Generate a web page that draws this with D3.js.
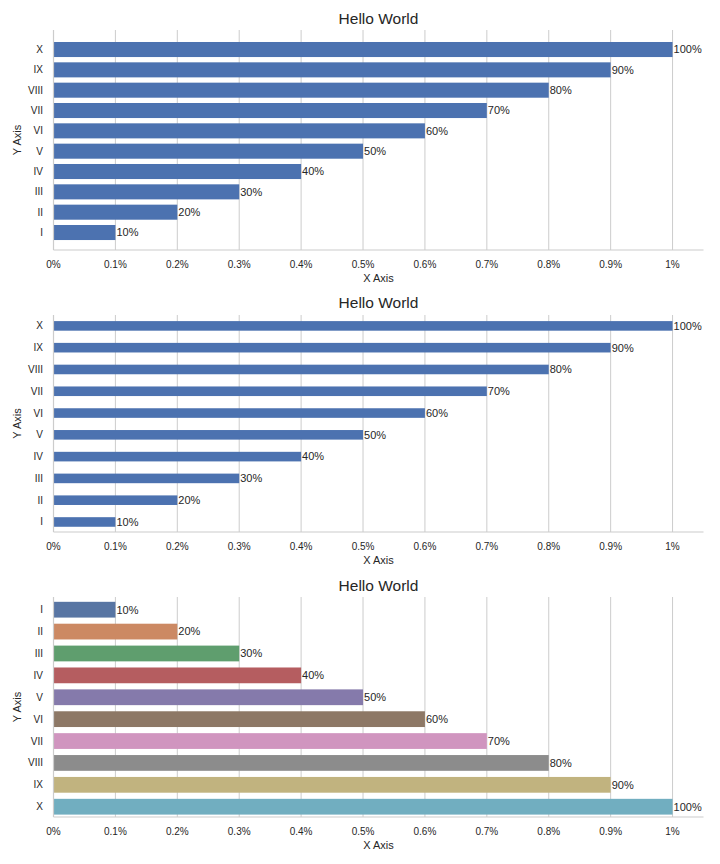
<!DOCTYPE html>
<html><head><meta charset="utf-8">
<script src="https://cdn.jsdelivr.net/npm/d3@7"></script>
<style>
body{margin:0;background:#fff;}
svg{display:block;font-family:"Liberation Sans",Arial,sans-serif;}
</style></head>
<body><div id="chart"></div>
<script>
const categories = ["I","II","III","IV","V","VI","VII","VIII","IX","X"];
const values = [0.1,0.2,0.3,0.4,0.5,0.6,0.7,0.8,0.9,1.0];
const valueLabels = ["10%","20%","30%","40%","50%","60%","70%","80%","90%","100%"];
const xTicks = [0,0.1,0.2,0.3,0.4,0.5,0.6,0.7,0.8,0.9,1.0];
const xTickLabels = ["0%","0.1%","0.2%","0.3%","0.4%","0.5%","0.6%","0.7%","0.8%","0.9%","1%"];
const title = "Hello World";
const xLabel = "X Axis";
const yLabel = "Y Axis";
const paletteDeep = ["#5875a3","#cc8963","#5f9e6e","#b55d60","#857aab","#8d7866","#d095bf","#8c8c8c","#c1b37f","#71aec0"];
const singleColor = "#4c72b0";

const W = 720, H = 864;
const svg = d3.select("#chart").append("svg").attr("width", W).attr("height", H);

const left = 53.5, right = 703.5;
const x = d3.scaleLinear().domain([0, 1.05]).range([left, right]);

const panels = [
  {top:30, bottom:250, ylo:-0.86, yhi:9.96, barH:0.74, reversed:false, colors:null, titleY:19},
  {top:315, bottom:532, ylo:-0.46, yhi:9.5, barH:0.44, reversed:false, colors:null, titleY:303},
  {top:597, bottom:817, ylo:-0.58, yhi:9.47, barH:0.72, reversed:true, colors:paletteDeep, titleY:586}
];

const txt = "#262626";
const gridC = "#cccccc";

panels.forEach(p => {
  const g = svg.append("g");
  // y index: for non reversed, I at bottom (index 0 low); reversed, I at top
  const y = d3.scaleLinear().domain([p.ylo, p.yhi]);
  if (p.reversed) y.range([p.top, p.bottom]); else y.range([p.bottom, p.top]);
  const pos = i => i;
  const step = Math.abs(y(1) - y(0));

  // grid
  g.selectAll(".grid").data(xTicks).enter().append("line")
    .attr("x1", d => x(d)).attr("x2", d => x(d))
    .attr("y1", p.top).attr("y2", p.bottom)
    .attr("stroke", gridC).attr("stroke-width", 1);

  // bars
  g.selectAll(".bar").data(values).enter().append("rect")
    .attr("x", x(0))
    .attr("y", (d,i) => y(pos(i)) - p.barH*step/2)
    .attr("width", d => x(d) - x(0))
    .attr("height", p.barH*step)
    .attr("fill", (d,i) => p.colors ? p.colors[i] : singleColor);

  // value labels
  g.selectAll(".vl").data(values).enter().append("text")
    .attr("x", d => x(d) + 1)
    .attr("y", (d,i) => y(pos(i)))
    .attr("dy", "0.35em")
    .attr("font-size", 11).attr("fill", txt)
    .text((d,i) => valueLabels[i]);

  // spines
  g.append("line").attr("x1", left).attr("x2", left).attr("y1", p.top).attr("y2", p.bottom)
    .attr("stroke", gridC).attr("stroke-width", 1.2);
  g.append("line").attr("x1", left).attr("x2", right).attr("y1", p.bottom).attr("y2", p.bottom)
    .attr("stroke", gridC).attr("stroke-width", 1.2);

  // x tick labels
  g.selectAll(".xt").data(xTicks).enter().append("text")
    .attr("x", d => x(d)).attr("y", p.bottom + 14).attr("dy", "0.35em")
    .attr("text-anchor", "middle").attr("font-size", 10).attr("fill", txt)
    .text((d,i) => xTickLabels[i]);

  // y tick labels
  g.selectAll(".yt").data(categories).enter().append("text")
    .attr("x", 43).attr("y", (d,i) => y(pos(i))).attr("dy", "0.35em")
    .attr("text-anchor", "end").attr("font-size", 10).attr("fill", txt)
    .text(d => d);

  // axis labels
  g.append("text").attr("x", (left+right)/2).attr("y", p.bottom + 28).attr("dy", "0.35em")
    .attr("text-anchor", "middle").attr("font-size", 11).attr("fill", txt).text(xLabel);
  g.append("text")
    .attr("transform", `translate(17,${(p.top+p.bottom)/2}) rotate(-90)`)
    .attr("dy", "0.35em")
    .attr("text-anchor", "middle").attr("font-size", 11).attr("fill", txt).text(yLabel);

  // title
  g.append("text").attr("x", (left+right)/2).attr("y", p.titleY).attr("dy", "0.35em")
    .attr("text-anchor", "middle").attr("font-size", 15.5).attr("fill", txt).text(title);
});
</script>
</body></html>
